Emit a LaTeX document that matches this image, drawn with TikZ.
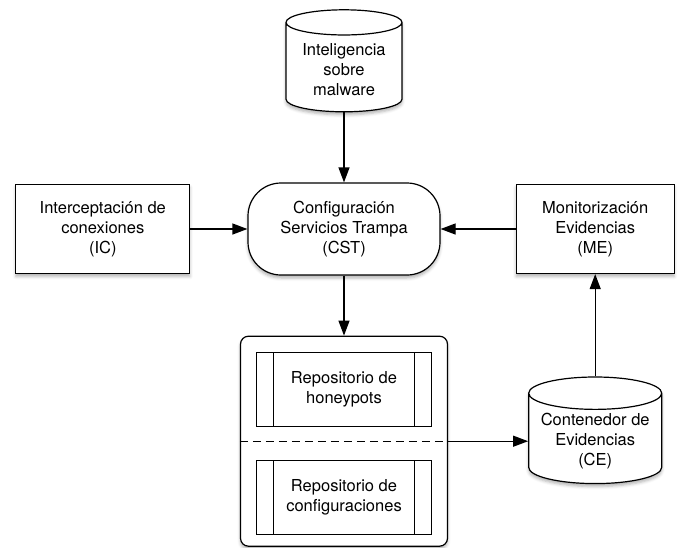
\documentclass[tikz,border=0pt]{standalone}
\usepackage{fontspec}
\setmainfont{TeX Gyre Heros}
\usepackage{tikz}
\usetikzlibrary{positioning,arrows.meta,shapes.geometric,shadows.blur}
\tikzset{
  base/.style={draw=black, fill=white, line width=1.2pt, align=center,
               font=\fontsize{16.5}{20}\selectfont,
               blur shadow={shadow xshift=0pt, shadow yshift=-3pt,
                            shadow blur radius=3pt, shadow opacity=30}},
  proc/.style={base, rectangle, minimum width=174pt, minimum height=89pt},
  term/.style={base, rectangle, rounded corners=33pt,
               minimum width=192pt, minimum height=92pt},
  store/.style={base, cylinder, shape border rotate=90, aspect=0.28},
  holder/.style={base, rectangle, rounded corners=8pt,
                 minimum width=207pt, minimum height=210pt},
  repobox/.style={rectangle, draw=black, fill=white, line width=1.2pt,
                  align=center, font=\fontsize{16.5}{20}\selectfont,
                  minimum width=175pt, minimum height=74pt,
                  path picture={
                    \draw[line width=1.2pt]
                      ([xshift=17pt]path picture bounding box.north west) --
                      ([xshift=17pt]path picture bounding box.south west);
                    \draw[line width=1.2pt]
                      ([xshift=-17pt]path picture bounding box.north east) --
                      ([xshift=-17pt]path picture bounding box.south east);}},
  flow/.style={-{Triangle[length=15pt,width=11pt]}, line width=1.2pt},
  sepline/.style={line width=1.2pt, dash pattern=on 8pt off 5pt},
}

\begin{document}
\begin{tikzpicture}[x=1pt, y=1pt]
  \useasboundingbox (0,0) rectangle (678,-547);

  \node[term] (cst) at (344,-229) {Configuración\\Servicios Trampa\\(CST)};
  \node[store, minimum width=116pt, minimum height=102pt, above=70pt of cst]
    (intel) {Inteligencia\\sobre\\malware};
  \node[proc, left=57pt of cst] (ic) {Interceptación de\\conexiones\\(IC)};
  \node[proc, minimum width=158pt, right=75pt of cst]
    (me) {Monitorización\\Evidencias\\(ME)};

  % contenedor de repositorios
  \node[holder, below=60pt of cst] (repos) {};
  \node[repobox, below=16pt of repos.north] (hpot) {Repositorio de\\honeypots};
  \node[repobox, above=12pt of repos.south] (conf) {Repositorio de\\configuraciones};
  \draw[sepline] (repos.west) -- (repos.east);

  \node[store, minimum width=133pt, minimum height=100pt, right=80pt of repos]
    (ce) {Contenedor de\\Evidencias\\(CE)};

  \draw[flow] (intel.south) -- (cst.north);
  \draw[flow] (ic) -- (cst);
  \draw[flow] (me) -- (cst);
  \draw[flow] (cst) -- (repos);
  \draw[flow] (repos.east) -- (ce.west);
  \draw[flow] (ce.north) -- (ce.north |- me.south);
\end{tikzpicture}
\end{document}
